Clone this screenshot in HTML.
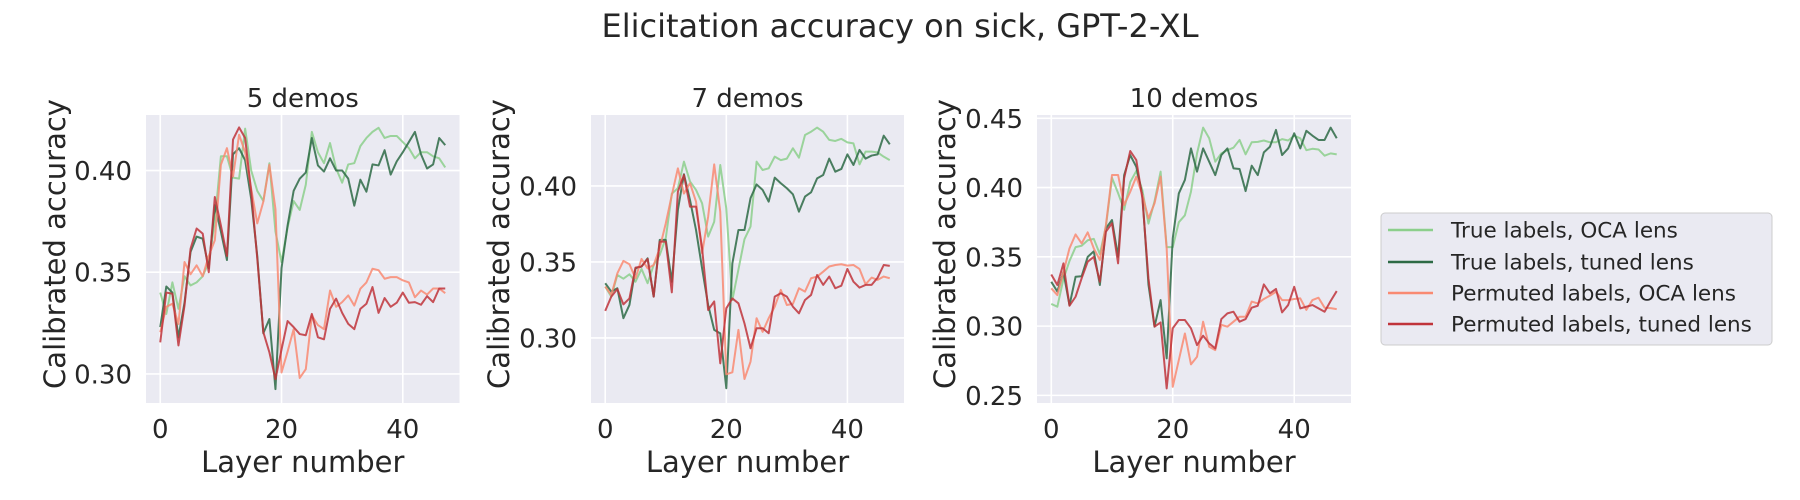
<!DOCTYPE html>
<html><head><meta charset="utf-8">
<style>
body{margin:0;background:#fff;}
svg{display:block;font-family:"DejaVu Sans","Liberation Sans",sans-serif;}
</style></head>
<body>
<svg id="chart" width="1800" height="500" viewBox="0 0 1800 500" xmlns="http://www.w3.org/2000/svg">
<text x="900" y="37" text-anchor="middle" font-size="32" fill="#262626">Elicitation accuracy on sick, GPT-2-XL</text>
<g id="panels"></g>
<g>
<rect x="1381" y="213" width="391" height="132" rx="4" fill="#eaeaf2" stroke="#cccccc" stroke-width="1"/>
<line x1="1388" y1="230" x2="1433" y2="230" stroke="#8ccf8c" stroke-width="2.5"/>
<text x="1451" y="237.5" font-size="21.5" fill="#262626">True labels, OCA lens</text>
<line x1="1388" y1="262" x2="1433" y2="262" stroke="#2d6a45" stroke-width="2.5"/>
<text x="1451" y="269.5" font-size="21.5" fill="#262626">True labels, tuned lens</text>
<line x1="1388" y1="293" x2="1433" y2="293" stroke="#f98a72" stroke-width="2.5"/>
<text x="1451" y="300.5" font-size="21.5" fill="#262626">Permuted labels, OCA lens</text>
<line x1="1388" y1="324" x2="1433" y2="324" stroke="#c0343b" stroke-width="2.5"/>
<text x="1451" y="331.5" font-size="21.5" fill="#262626">Permuted labels, tuned lens</text>
</g>
</svg>
<script>
const panelTitles = ["5 demos", "7 demos", "10 demos"];
const xTicks = [0, 20, 40];
const yTicks1 = [0.30, 0.35, 0.40];
const yTicks2 = [0.30, 0.35, 0.40];
const yTicks3 = [0.25, 0.30, 0.35, 0.40, 0.45];
const yLim1 = [0.2857, 0.4273];
const yLim2 = [0.2572, 0.4467];
const yLim3 = [0.2445, 0.4524];
const xLim = [-2.35, 49.35];
const seriesNames = ["True labels, OCA lens","True labels, tuned lens","Permuted labels, OCA lens","Permuted labels, tuned lens"];

const trueOca5 = [0.340,0.3295,0.345,0.332,0.348,0.3435,0.345,0.348,0.355,0.375,0.407,0.407,0.3965,0.396,0.4206,0.400,0.390,0.385,0.4036,0.370,0.355,0.372,0.385,0.3806,0.393,0.419,0.409,0.4036,0.4135,0.401,0.394,0.403,0.4036,0.412,0.416,0.419,0.421,0.416,0.417,0.417,0.414,0.411,0.406,0.409,0.409,0.407,0.406,0.4015];
const trueTuned5 = [0.323,0.343,0.340,0.318,0.335,0.360,0.3675,0.3665,0.352,0.383,0.370,0.356,0.408,0.411,0.405,0.386,0.358,0.320,0.327,0.2925,0.352,0.373,0.390,0.396,0.399,0.416,0.4025,0.3995,0.406,0.400,0.400,0.396,0.3827,0.3955,0.3896,0.403,0.4025,0.410,0.398,0.4045,0.409,0.414,0.419,0.408,0.401,0.403,0.416,0.4125];
const permOca5 = [0.3205,0.333,0.3345,0.3245,0.355,0.349,0.3534,0.348,0.358,0.3657,0.4028,0.411,0.397,0.4176,0.409,0.391,0.374,0.3847,0.4028,0.381,0.3007,0.311,0.322,0.298,0.3023,0.3287,0.324,0.322,0.341,0.333,0.3353,0.3386,0.3336,0.3419,0.345,0.3517,0.351,0.3468,0.3476,0.3476,0.346,0.345,0.3377,0.341,0.339,0.342,0.342,0.3397];
const permTuned5 = [0.3155,0.340,0.3394,0.314,0.3336,0.3616,0.3715,0.369,0.350,0.387,0.373,0.358,0.4152,0.4212,0.416,0.3896,0.3567,0.3205,0.3106,0.2974,0.312,0.326,0.323,0.3196,0.319,0.3295,0.318,0.317,0.332,0.337,0.330,0.3246,0.322,0.332,0.3345,0.3427,0.330,0.3373,0.333,0.335,0.340,0.335,0.3353,0.334,0.3382,0.3353,0.342,0.342];

const trueOca7 = [0.3338,0.3272,0.3414,0.339,0.3419,0.337,0.3454,0.336,0.348,0.3546,0.3656,0.395,0.3985,0.416,0.403,0.3974,0.3886,0.3667,0.3765,0.4138,0.385,0.325,0.345,0.365,0.3733,0.416,0.4105,0.4116,0.4193,0.417,0.418,0.4248,0.4186,0.4335,0.4357,0.4384,0.4357,0.4303,0.4296,0.431,0.4287,0.428,0.4142,0.4226,0.4226,0.4221,0.4193,0.417];
const trueTuned7 = [0.336,0.3305,0.3327,0.313,0.3217,0.3458,0.347,0.3524,0.3272,0.3645,0.3645,0.337,0.3842,0.4077,0.3908,0.371,0.3458,0.3217,0.3053,0.303,0.2669,0.349,0.371,0.371,0.392,0.401,0.3974,0.3897,0.4055,0.4018,0.3985,0.3945,0.3831,0.393,0.3958,0.405,0.4072,0.418,0.4094,0.4112,0.4208,0.4138,0.4237,0.418,0.42,0.4208,0.4331,0.4274];
const permOca7 = [0.3338,0.3283,0.3425,0.3507,0.3485,0.3393,0.352,0.3458,0.348,0.359,0.3754,0.394,0.4116,0.395,0.4018,0.3897,0.3557,0.3798,0.4142,0.383,0.2761,0.2774,0.3053,0.273,0.2844,0.313,0.304,0.313,0.3206,0.3316,0.3217,0.3224,0.3327,0.3305,0.3393,0.3404,0.3436,0.347,0.348,0.3485,0.3476,0.348,0.3454,0.3353,0.3397,0.3382,0.3404,0.3393];
const permTuned7 = [0.3178,0.3272,0.3322,0.3221,0.326,0.3463,0.347,0.352,0.3272,0.3634,0.3634,0.33,0.3963,0.4072,0.3864,0.3864,0.359,0.3184,0.324,0.2833,0.3195,0.326,0.3228,0.3096,0.2932,0.3064,0.3064,0.3031,0.3272,0.3294,0.3272,0.3206,0.3162,0.325,0.3283,0.3414,0.3349,0.3404,0.3327,0.3344,0.3454,0.337,0.3331,0.3349,0.3349,0.3397,0.348,0.3474];

const trueOca10 = [0.316,0.314,0.334,0.347,0.357,0.358,0.362,0.363,0.352,0.372,0.407,0.396,0.384,0.404,0.412,0.398,0.374,0.39,0.4115,0.357,0.357,0.375,0.380,0.397,0.4247,0.4433,0.4356,0.4187,0.4247,0.427,0.4288,0.4344,0.424,0.4327,0.433,0.434,0.4327,0.4327,0.435,0.434,0.4375,0.4356,0.427,0.428,0.4275,0.423,0.4247,0.424];
const trueTuned10 = [0.332,0.325,0.339,0.315,0.3356,0.336,0.35,0.354,0.3297,0.3706,0.3766,0.35,0.409,0.4235,0.415,0.3946,0.33,0.2996,0.3188,0.2767,0.3633,0.3958,0.4055,0.4283,0.4115,0.4283,0.4187,0.409,0.4235,0.4283,0.4139,0.4134,0.3975,0.4158,0.409,0.4254,0.4295,0.4416,0.4235,0.4283,0.4392,0.4283,0.441,0.4375,0.4344,0.4344,0.4433,0.4356];
const permOca10 = [0.3273,0.3224,0.339,0.3561,0.3662,0.3597,0.3677,0.3561,0.3477,0.373,0.4091,0.4091,0.3874,0.397,0.4079,0.3946,0.3778,0.3886,0.4079,0.3561,0.2562,0.2755,0.2947,0.2724,0.2779,0.3032,0.2851,0.2827,0.3009,0.2996,0.3032,0.3068,0.3068,0.3177,0.3164,0.3196,0.322,0.3248,0.3188,0.3188,0.3196,0.32,0.3117,0.3188,0.3205,0.3133,0.313,0.3123];
const permTuned10 = [0.3373,0.3297,0.3453,0.3147,0.3212,0.3345,0.3465,0.35,0.332,0.3682,0.3742,0.3453,0.4067,0.4264,0.4199,0.3922,0.3345,0.2996,0.3027,0.255,0.2984,0.3044,0.3044,0.2984,0.2863,0.2931,0.2875,0.2839,0.3051,0.3092,0.3104,0.3032,0.3051,0.3133,0.3147,0.3301,0.3237,0.3268,0.3099,0.3152,0.3284,0.3128,0.314,0.3152,0.3128,0.3104,0.3181,0.3253];

const colors = ["#8ccf8c","#2d6a45","#f98a72","#c0343b"];
const NS = "http://www.w3.org/2000/svg";
const panelsG = document.getElementById("panels");

const panels = [
  {left:146,right:459.5,yTicks:yTicks1,yLim:yLim1,ylabX:55,series:[trueOca5,trueTuned5,permOca5,permTuned5]},
  {left:591,right:904,yTicks:yTicks2,yLim:yLim2,ylabX:499,series:[trueOca7,trueTuned7,permOca7,permTuned7]},
  {left:1037,right:1351,yTicks:yTicks3,yLim:yLim3,ylabX:945,series:[trueOca10,trueTuned10,permOca10,permTuned10]}
];
const top0 = 115, bottom0 = 403;

function mk(tag, attrs){const e=document.createElementNS(NS,tag);for(const k in attrs)e.setAttribute(k,attrs[k]);return e;}

panels.forEach((p,pi)=>{
  const g = mk("g",{});
  
  
  panelsG.appendChild(g);
  const xs = v => p.left + (v - xLim[0]) / (xLim[1]-xLim[0]) * (p.right - p.left);
  const ys = v => bottom0 - (v - p.yLim[0]) / (p.yLim[1]-p.yLim[0]) * (bottom0 - top0);
  const bg = mk("rect",{x:p.left,y:top0,width:p.right-p.left,height:bottom0-top0,fill:"#eaeaf2"});
  
  
  g.appendChild(bg);
  xTicks.forEach(t=>{
    const x = xs(t);
    const gl = mk("line",{x1:x,x2:x,y1:top0,y2:bottom0,stroke:"#fff","stroke-width":1.6});
    
    
    g.appendChild(gl);
    const tl = mk("text",{x:x,y:438,"text-anchor":"middle","font-size":26,fill:"#262626"});
    tl.textContent = t;
    
    
    g.appendChild(tl);
  });
  p.yTicks.forEach(t=>{
    const y = ys(t);
    const gl = mk("line",{x1:p.left,x2:p.right,y1:y,y2:y,stroke:"#fff","stroke-width":1.6});
    
    
    g.appendChild(gl);
    const tl = mk("text",{x:p.left-14,y:y+9.5,"text-anchor":"end","font-size":26,fill:"#262626"});
    tl.textContent = t.toFixed(2);
    
    
    g.appendChild(tl);
  });
  p.series.forEach((s,si)=>{
    const d = s.map((v,i)=>(i?"L":"M")+xs(i).toFixed(2)+","+ys(v).toFixed(2)).join(" ");
    const path = mk("path",{d:d,fill:"none",stroke:colors[si],"stroke-width":2,"stroke-opacity":0.85,"stroke-linejoin":"round"});
    
    
    g.appendChild(path);
  });
  const cx = (p.left+p.right)/2;
  const title = mk("text",{x:cx,y:107,"text-anchor":"middle","font-size":26,fill:"#262626"});
  title.textContent = panelTitles[pi];
  
  
  g.appendChild(title);
  const xl = mk("text",{x:cx,y:472,"text-anchor":"middle","font-size":29,fill:"#262626"});
  xl.textContent = "Layer number";
  
  
  g.appendChild(xl);
  const yl = mk("text",{x:0,y:0,"text-anchor":"middle","font-size":29,fill:"#262626",transform:"translate("+(p.ylabX+10)+","+((top0+bottom0)/2-15)+") rotate(-90)"});
  yl.textContent = "Calibrated accuracy";
  
  
  g.appendChild(yl);
});
</script>
</body></html>
